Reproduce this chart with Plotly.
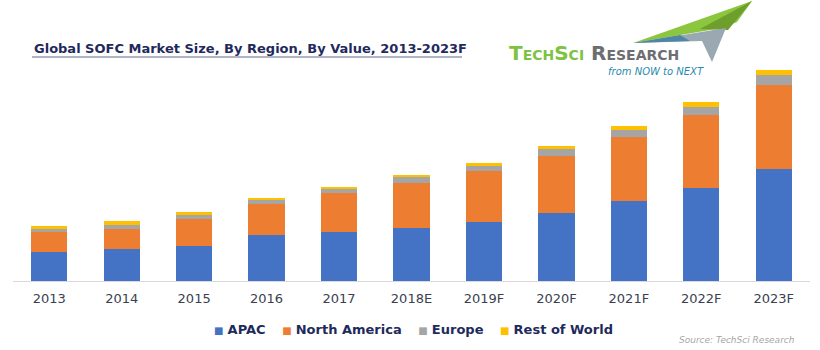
import plotly.graph_objects as go

years = ["2013", "2014", "2015", "2016", "2017", "2018E", "2019F", "2020F", "2021F", "2022F", "2023F"]
apac = [29.0, 32.0, 35.3, 45.7, 49.3, 53.5, 59.3, 68.0, 80.0, 93.3, 111.7]
north_america = [20.0, 20.0, 27.0, 31.3, 38.4, 44.8, 50.4, 57.5, 63.7, 73.0, 84.3]
europe = [3.0, 4.0, 4.0, 3.7, 4.0, 5.4, 5.6, 6.2, 7.3, 8.0, 9.7]
rest_of_world = [2.7, 4.3, 2.4, 2.0, 2.6, 2.6, 2.7, 3.5, 4.3, 4.4, 5.3]

series_names = ["APAC", "North America", "Europe", "Rest of World"]
series_values = [apac, north_america, europe, rest_of_world]
colors = ["#4472C4", "#ED7D31", "#A5A5A5", "#FFC000"]

W, H = 820, 350
ML, MR, MT, MB = 13, 10, 50, 69
PW = W - ML - MR
PH = H - MT - MB


def px(x):
    return (x - ML) / PW


def py(y):
    return (H - MB - y) / PH


fig = go.Figure()
for name, vals, col in zip(series_names, series_values, colors):
    fig.add_trace(go.Bar(x=years, y=vals, name=name, marker=dict(color=col, line=dict(width=0))))

annotations = []
shapes = []

# Title
annotations.append(dict(
    x=px(32), y=py(48), xref="paper", yref="paper", xanchor="left", yanchor="middle",
    text="<b>Global SOFC Market Size, By Region, By Value, 2013-2023F</b>",
    showarrow=False, font=dict(family="DejaVu Sans", size=13, color="#1F2A5C")))
shapes.append(dict(type="line", xref="paper", yref="paper",
                   x0=px(32), x1=px(462), y0=py(57), y1=py(57),
                   line=dict(color="#5F6A8A", width=1)))

# Logo graphic
def path(points):
    s = "M " + " L ".join(f"{px(a):.5f},{py(b):.5f}" for a, b in points) + " Z"
    return s

shapes.append(dict(type="path", xref="paper", yref="paper",
                   path=path([(633, 43), (752, 1), (737, 22), (722, 28)]),
                   fillcolor="#8CC63F", line=dict(width=0)))
shapes.append(dict(type="path", xref="paper", yref="paper",
                   path=path([(700, 29), (752, 1), (728, 30)]),
                   fillcolor="#6E9E2C", line=dict(width=0)))
shapes.append(dict(type="path", xref="paper", yref="paper",
                   path=path([(633, 43), (726, 28), (712, 62), (702, 41)]),
                   fillcolor="#9AA8B2", line=dict(width=0)))
shapes.append(dict(type="path", xref="paper", yref="paper",
                   path=path([(633, 43), (680, 35), (690, 41)]),
                   fillcolor="#4F86A6", line=dict(width=0)))

annotations.append(dict(
    x=px(507), y=py(53), xref="paper", yref="paper", xanchor="left", yanchor="middle",
    text="<b><span style='color:#7DC242'>TechSci</span> <span style='color:#6D6E71'>Research</span></b>",
    showarrow=False, font=dict(family="DejaVu Sans", size=20, variant="small-caps")))
annotations.append(dict(
    x=px(706), y=py(71), xref="paper", yref="paper", xanchor="right", yanchor="middle",
    text="<i>from NOW to NEXT</i>",
    showarrow=False, font=dict(family="DejaVu Sans", size=10, color="#2A8AB0")))

# Legend (built from series names and colours)
legend_text = "&nbsp;&nbsp;&nbsp;&nbsp;".join(
    f"<span style='color:{c};font-size:10px'>■</span>&nbsp;<b>{n}</b>" for n, c in zip(series_names, colors))
annotations.append(dict(
    x=px(413), y=py(329), xref="paper", yref="paper", xanchor="center", yanchor="middle",
    text=legend_text, showarrow=False,
    font=dict(family="DejaVu Sans", size=13, color="#1F2A5C")))

# Source
annotations.append(dict(
    x=px(797), y=py(340), xref="paper", yref="paper", xanchor="right", yanchor="middle",
    text="<i>Source: TechSci Research</i>", showarrow=False,
    font=dict(family="DejaVu Sans", size=9, color="#A6A6A6")))

fig.update_layout(
    width=W, height=H,
    margin=dict(l=ML, r=MR, t=MT, b=MB, pad=0),
    barmode="stack", bargap=0.5,
    plot_bgcolor="white", paper_bgcolor="white",
    showlegend=False,
    xaxis=dict(showline=True, linecolor="#D9D9D9", linewidth=1, ticks="",
               ticklabelstandoff=5,
               tickfont=dict(family="DejaVu Sans", size=13, color="#3B3F4F"),
               showgrid=False, zeroline=False, fixedrange=True),
    yaxis=dict(range=[0, PH], visible=False, showgrid=False, zeroline=False, fixedrange=True),
    annotations=annotations, shapes=shapes,
)

fig.write_html("out.html")
